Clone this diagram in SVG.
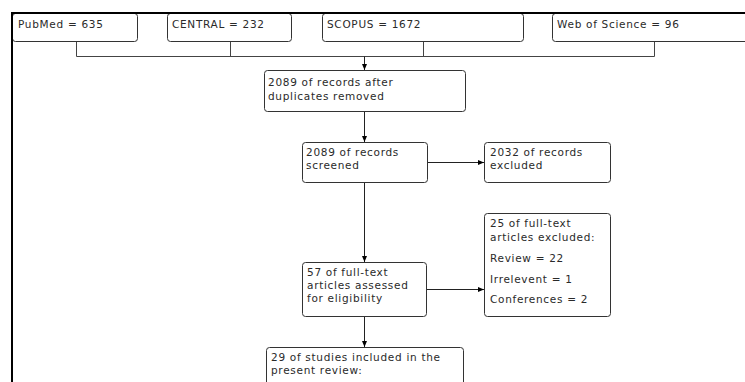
<svg xmlns="http://www.w3.org/2000/svg" width="745" height="382" viewBox="0 0 745 382">
<defs>
<marker id="ah" markerWidth="6" markerHeight="6" refX="6" refY="3" orient="auto" markerUnits="userSpaceOnUse">
<path d="M0,0.5 L6,3 L0,5.5 Z" fill="#000"/>
</marker>
<style>
.box{fill:#fff;stroke:#333;stroke-width:1}
.t{font-family:"DejaVu Sans",Verdana,sans-serif;font-size:10.5px;letter-spacing:0.7px;fill:#2a2a2a}
.c{fill:none;stroke:#444;stroke-width:1}
.ca{fill:none;stroke:#222;stroke-width:1;marker-end:url(#ah)}
.frame{fill:none;stroke:#000;stroke-width:2}
</style>
</defs>
<rect width="745" height="382" fill="#fff"/>
<g id="connectors">
<path class="c" d="M76.5,41 V56.5 M230.5,41 V56.5 M423.5,41 V56.5 M654.5,41 V56.5 M76.5,56.5 H654.5"/>
<path class="ca" d="M364.5,56.5 V70"/>
<path class="ca" d="M364.5,111 V142"/>
<path class="ca" d="M427,162.5 H484"/>
<path class="ca" d="M364.5,182 V262"/>
<path class="ca" d="M426,289.5 H484"/>
<path class="ca" d="M364.5,316 V347"/>
</g>
<g id="pubmed"><rect class="box" x="12.5" y="13.5" width="125" height="28" rx="3"/><text class="t" x="18" y="28">PubMed = 635</text></g>
<g id="central"><rect class="box" x="167.5" y="13.5" width="124" height="28" rx="3"/><text class="t" x="172" y="28">CENTRAL = 232</text></g>
<g id="scopus"><rect class="box" x="322.5" y="13.5" width="201" height="28" rx="3"/><text class="t" x="327" y="28">SCOPUS = 1672</text></g>
<g id="wos"><rect class="box" x="552.5" y="13.5" width="200" height="28" rx="3"/><text class="t" x="557" y="28">Web of Science = 96</text></g>
<g id="dedup"><rect class="box" x="264.5" y="70.5" width="201" height="41" rx="3"/><text class="t" x="268" y="86">2089 of records after</text><text class="t" x="268" y="100">duplicates removed</text></g>
<g id="screened"><rect class="box" x="302.5" y="142.5" width="125" height="40" rx="3"/><text class="t" x="306" y="156">2089 of records</text><text class="t" x="306" y="169">screened</text></g>
<g id="excluded"><rect class="box" x="484.5" y="142.5" width="126" height="40" rx="3"/><text class="t" x="490" y="156">2032 of records</text><text class="t" x="490" y="169">excluded</text></g>
<g id="ftexcluded"><rect class="box" x="484.5" y="213.5" width="126" height="103" rx="3"/><text class="t" x="490" y="227">25 of full-text</text><text class="t" x="490" y="241">articles excluded:</text><text class="t" x="490" y="262">Review = 22</text><text class="t" x="490" y="283">Irrelevent = 1</text><text class="t" x="490" y="303">Conferences = 2</text></g>
<g id="assessed"><rect class="box" x="302.5" y="262.5" width="124" height="54" rx="3"/><text class="t" x="307" y="276">57 of full-text</text><text class="t" x="307" y="289">articles assessed</text><text class="t" x="307" y="302">for eligibility</text></g>
<g id="included"><rect class="box" x="266.5" y="347.5" width="197" height="50" rx="3"/><text class="t" x="271" y="361">29 of studies included in the</text><text class="t" x="271" y="374">present review:</text></g>
<path class="frame" d="M12,382 V13 H745"/>
</svg>
